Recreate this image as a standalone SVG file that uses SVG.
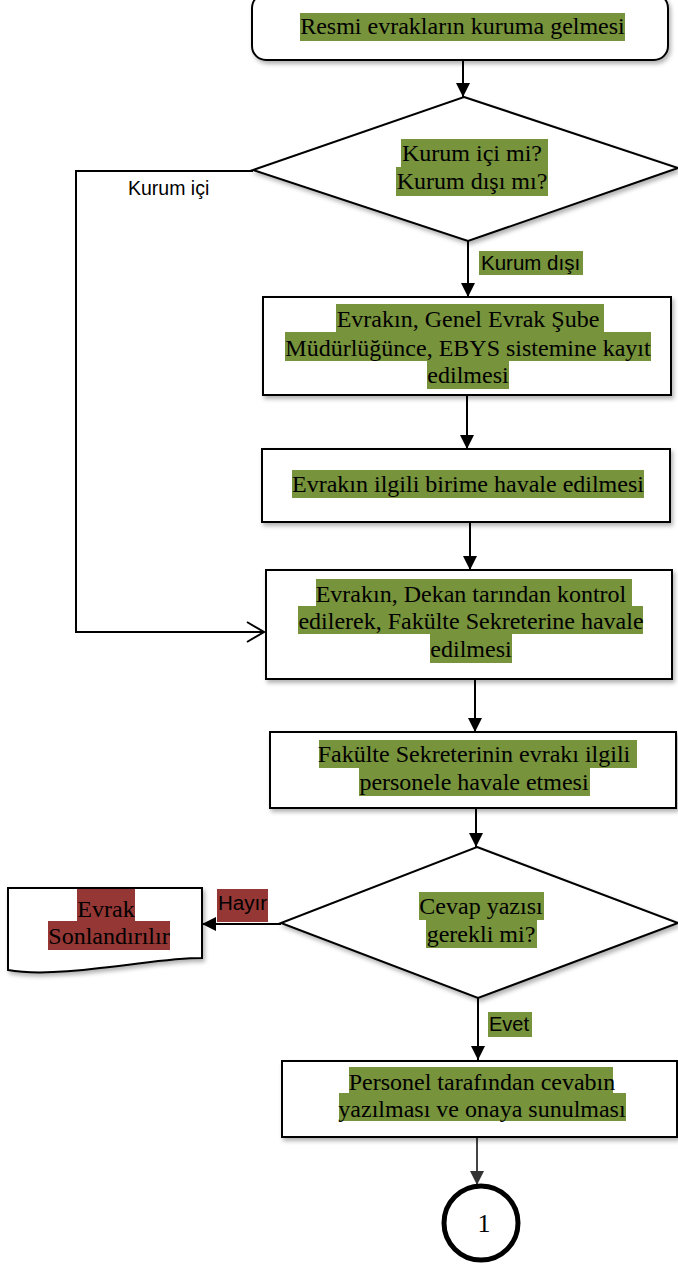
<svg xmlns="http://www.w3.org/2000/svg" width="678" height="1265" viewBox="0 0 678 1265">
<defs>
<filter id="sh" x="-10%" y="-10%" width="130%" height="140%">
<feDropShadow dx="2" dy="3" stdDeviation="2" flood-color="#000" flood-opacity="0.3"/>
</filter>
<marker id="arr" viewBox="0 0 14 14" refX="14" refY="7" markerWidth="14" markerHeight="14" markerUnits="userSpaceOnUse" orient="auto">
<path d="M0,0 L14,7 L0,14 Z" fill="#000"/>
</marker>
<marker id="arrg" viewBox="0 0 14 14" refX="14" refY="7" markerWidth="14" markerHeight="14" markerUnits="userSpaceOnUse" orient="auto">
<path d="M0,0 L14,7 L0,14 Z" fill="#333"/>
</marker>
<marker id="open" viewBox="0 0 20 24" refX="18" refY="12" markerWidth="20" markerHeight="24" markerUnits="userSpaceOnUse" orient="auto">
<path d="M1,2 L18,12 L1,22" fill="none" stroke="#000" stroke-width="2"/>
</marker>
</defs>
<style>
.box{fill:#fff;stroke:#000;stroke-width:2;filter:url(#sh)}
.t{font-family:"Liberation Serif","Times New Roman",serif;font-size:24px;fill:#000;text-anchor:middle}
.l{font-family:"Liberation Sans",Arial,sans-serif;font-size:19.5px;fill:#000}
.hg{fill:#77933C}
.hr{fill:#953735}
.c{fill:none;stroke:#000;stroke-width:2}
</style>

<g id="connectors">
<path class="c" d="M463,60 V97" marker-end="url(#arr)"/>
<path class="c" d="M468,241 V297" marker-end="url(#arr)"/>
<path class="c" d="M467,395 V449" marker-end="url(#arr)"/>
<path class="c" d="M470,522 V570" marker-end="url(#arr)"/>
<path class="c" d="M475,679 V732" marker-end="url(#arr)"/>
<path class="c" d="M476,808 V847" marker-end="url(#arr)"/>
<path class="c" d="M478,998 V1060" marker-end="url(#arr)"/>
<path class="c" d="M477,1137 V1185" marker-end="url(#arrg)" style="stroke:#444"/>
<path class="c" d="M253,171 H76 V632 H264" marker-end="url(#open)"/>
<path class="c" d="M281,924 H202" marker-end="url(#arr)"/>
<text class="l" x="128" y="195">Kurum içi</text>
<rect class="hg" x="479" y="251" width="104" height="24"/>
<text class="l" x="481" y="270" style="font-size:20.5px">Kurum dışı</text>
<rect class="hr" x="217" y="889" width="51" height="33"/>
<text class="l" x="218" y="910" style="font-size:20.5px">Hayır</text>
<rect class="hg" x="488" y="1012" width="44" height="25"/>
<text class="l" x="489" y="1031" style="font-size:20px">Evet</text>
</g>

<g id="start">
<rect class="box" x="252" y="-6" width="416" height="66" rx="14"/>
<rect class="hg" x="300" y="13" width="325" height="28"/>
<text class="t" x="462.5" y="34">Resmi evrakların kuruma gelmesi</text>
</g>

<g id="decision1">
<polygon class="box" points="464,97 678,168 468,241 253,170"/>
<rect class="hg" x="401" y="139" width="147" height="28"/>
<rect class="hg" x="396" y="167" width="152" height="29"/>
<text class="t" x="472" y="161">Kurum içi mi?</text>
<text class="t" x="472" y="189">Kurum dışı mı?</text>
</g>

<g id="kayit">
<rect class="box" x="263" y="297" width="408" height="98"/>
<rect class="hg" x="336" y="304" width="268" height="28"/>
<rect class="hg" x="285" y="332" width="366" height="29"/>
<rect class="hg" x="427" y="361" width="82" height="28"/>
<text class="t" x="468" y="327">Evrakın, Genel Evrak Şube</text>
<text class="t" x="468" y="356">Müdürlüğünce, EBYS sistemine kayıt</text>
<text class="t" x="468" y="383">edilmesi</text>
</g>

<g id="havale">
<rect class="box" x="262" y="449" width="408" height="73"/>
<rect class="hg" x="292" y="470" width="352" height="28"/>
<text class="t" x="468" y="492">Evrakın ilgili birime havale edilmesi</text>
</g>

<g id="dekan">
<rect class="box" x="266" y="570" width="406" height="109"/>
<rect class="hg" x="316" y="579" width="316" height="27"/>
<rect class="hg" x="298" y="606" width="345" height="28"/>
<rect class="hg" x="430" y="634" width="82" height="29"/>
<text class="t" x="471" y="602">Evrakın, Dekan tarından kontrol</text>
<text class="t" x="471" y="629">edilerek, Fakülte Sekreterine havale</text>
<text class="t" x="471" y="657">edilmesi</text>
</g>

<g id="sekreter">
<rect class="box" x="270" y="732" width="406" height="76"/>
<rect class="hg" x="319" y="740" width="318" height="28"/>
<rect class="hg" x="359" y="768" width="231" height="28"/>
<text class="t" x="474" y="762">Fakülte Sekreterinin evrakı ilgili</text>
<text class="t" x="474" y="790">personele havale etmesi</text>
</g>

<g id="decision2">
<polygon class="box" points="477,847 678,923 478,998 281,923"/>
<rect class="hg" x="419" y="892" width="125" height="28"/>
<rect class="hg" x="426" y="920" width="111" height="28"/>
<text class="t" x="481" y="914">Cevap yazısı</text>
<text class="t" x="481" y="942">gerekli mi?</text>
</g>

<g id="sonlandir">
<path class="box" d="M8,888 H202 V958 C170,958 140,964 100,968 C60,973 30,974 8,970 Z"/>
<rect class="hr" x="77" y="889" width="58" height="32"/>
<rect class="hr" x="48" y="921" width="122" height="29"/>
<text class="t" x="106" y="917">Evrak</text>
<text class="t" x="109" y="944">Sonlandırılır</text>
</g>

<g id="personel">
<rect class="box" x="282" y="1061" width="395" height="76"/>
<rect class="hg" x="349" y="1067" width="264" height="26"/>
<rect class="hg" x="339" y="1093" width="287" height="28"/>
<text class="t" x="482" y="1090">Personel tarafından cevabın</text>
<text class="t" x="482" y="1117">yazılması ve onaya sunulması</text>
</g>

<g id="connector1">
<circle cx="481" cy="1223" r="37" fill="#fff" stroke="#000" stroke-width="5"/>
<text class="t" x="484" y="1232" style="font-size:26px">1</text>
</g>
</svg>
